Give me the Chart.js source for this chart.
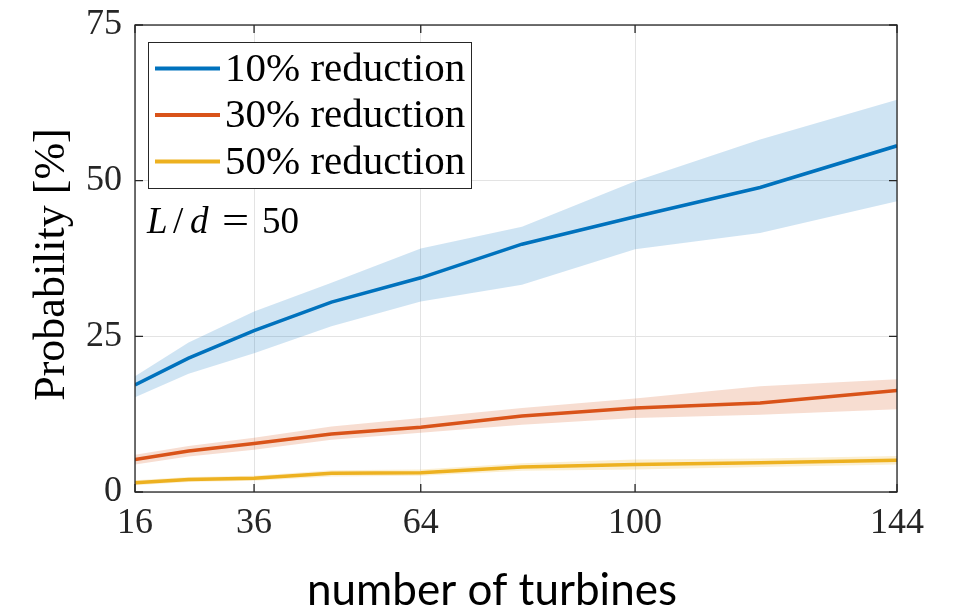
<!DOCTYPE html>
<html><head><meta charset="utf-8">
<script src="https://cdn.jsdelivr.net/npm/chart.js@4/dist/chart.umd.min.js"></script>
<style>html,body{margin:0;padding:0;background:#fff}#wrap{width:954px;height:614px}</style>
</head><body><div id="wrap"><canvas id="c" width="954" height="614"></canvas></div>
<script>
// ---- data ----
const turbines = [16, 25, 36, 49, 64, 81, 100, 121, 144];
const xTicks = [16, 36, 64, 100, 144];
const yTicks = [0, 25, 50, 75];
const seriesLabels = ['10% reduction', '30% reduction', '50% reduction'];

const mean10  = [17.2, 21.5, 25.9, 30.5, 34.4, 39.8, 44.2, 48.9, 55.6];
const upper10 = [18.6, 24.0, 29.0, 33.6, 39.1, 42.6, 49.9, 56.6, 63.0];
const lower10 = [15.2, 19.0, 22.3, 26.6, 30.6, 33.3, 39.0, 41.6, 46.7];

const mean30  = [5.2, 6.6, 7.8, 9.3, 10.4, 12.2, 13.5, 14.3, 16.3];
const upper30 = [6.0, 7.4, 8.7, 10.5, 11.9, 13.5, 15.0, 17.0, 18.1];
const lower30 = [4.4, 5.7, 6.8, 8.4, 9.5, 10.8, 11.9, 12.4, 13.3];

const mean50  = [1.5, 2.0, 2.2, 3.0, 3.1, 4.0, 4.4, 4.7, 5.1];
const upper50 = [1.9, 2.4, 2.6, 3.5, 3.6, 4.6, 5.2, 5.4, 5.8];
const lower50 = [1.1, 1.6, 1.8, 2.5, 2.6, 3.4, 3.6, 4.0, 4.4];

const xTitle = 'number of turbines';
const yTitle = 'Probability [%]';

// ---- styles ----
const lineColors = ['#0072BD', '#D95319', '#EDB120'];
const bandColors = ['rgba(0,114,189,0.19)', 'rgba(217,83,25,0.2)', 'rgba(237,177,32,0.2)'];
const SERIF = '"Liberation Serif", "Times New Roman", serif';

const pts = arr => arr.map((v, i) => ({x: turbines[i], y: v}));
const groups = [[mean10, upper10, lower10], [mean30, upper30, lower30], [mean50, upper50, lower50]];
const datasets = [];
groups.forEach((g, k) => {
  datasets.push({label: seriesLabels[k] + ' upper', data: pts(g[1]), fill: '+1', backgroundColor: bandColors[k],
    borderWidth: 0, pointRadius: 0, tension: 0, isBand: true});
  datasets.push({label: seriesLabels[k] + ' lower', data: pts(g[2]), fill: false, borderWidth: 0,
    pointRadius: 0, tension: 0, isBand: true});
});
groups.forEach((g, k) => {
  datasets.push({label: seriesLabels[k], data: pts(g[0]), fill: false, borderColor: lineColors[k],
    borderWidth: 3.5, pointRadius: 0, tension: 0});
});

const decor = {
  id: 'decor',
  afterDraw(chart) {
    const {ctx, chartArea: {left, right, top, bottom}, scales: {x, y}} = chart;
    ctx.save();
    // box and inward ticks
    ctx.strokeStyle = '#262626';
    ctx.lineWidth = 1.3;
    ctx.strokeRect(left, top, right - left, bottom - top);
    ctx.beginPath();
    xTicks.forEach(v => { const p = x.getPixelForValue(v);
      ctx.moveTo(p, bottom); ctx.lineTo(p, bottom - 8); ctx.moveTo(p, top); ctx.lineTo(p, top + 8); });
    yTicks.forEach(v => { const p = y.getPixelForValue(v);
      ctx.moveTo(left, p); ctx.lineTo(left + 8, p); ctx.moveTo(right, p); ctx.lineTo(right - 8, p); });
    ctx.stroke();

    // legend inside the axes
    const bx = left + 13, by = top + 17, bw = 323, bh = 146;
    ctx.fillStyle = '#fff';
    ctx.fillRect(bx, by, bw, bh);
    ctx.lineWidth = 1;
    ctx.strokeStyle = '#262626';
    ctx.strokeRect(bx + 0.5, by + 0.5, bw, bh);
    const lines = chart.data.datasets.filter(d => !d.isBand);
    ctx.font = '41px ' + SERIF;
    ctx.textAlign = 'left';
    ctx.textBaseline = 'alphabetic';
    lines.forEach((d, i) => {
      const ry = by + 26.5 + i * 46.5;
      ctx.strokeStyle = d.borderColor;
      ctx.lineWidth = 4;
      ctx.beginPath(); ctx.moveTo(bx + 7, ry); ctx.lineTo(bx + 72, ry); ctx.stroke();
      ctx.fillStyle = '#000';
      ctx.fillText(d.label, bx + 77, ry + 12);
    });

    // annotation L/d = 50
    const ty = top + 208;
    ctx.fillStyle = '#000';
    ctx.font = 'italic 37px ' + SERIF;
    ctx.fillText('L', left + 12, ty);
    ctx.font = '37px ' + SERIF;
    ctx.fillText('/', left + 38, ty);
    ctx.font = 'italic 37px ' + SERIF;
    ctx.fillText('d', left + 55, ty);
    ctx.font = '37px ' + SERIF;
    ctx.save();
    ctx.translate(left + 87, ty);
    ctx.scale(1.3, 1);
    ctx.fillText('=', 0, 0);
    ctx.restore();
    ctx.fillText('50', left + 127, ty);

    // axis titles
    ctx.font = '44px Lato, "Open Sans", sans-serif';
    ctx.textAlign = 'center';
    ctx.fillText(xTitle, (left + right) / 2 - 24, 605);
    ctx.save();
    ctx.translate(64, (top + bottom) / 2 + 6);
    ctx.rotate(-Math.PI / 2);
    ctx.font = '44px ' + SERIF;
    ctx.fillText(yTitle, 0, 0);
    ctx.restore();
    ctx.restore();
  }
};

new Chart(document.getElementById('c'), {
  type: 'line',
  data: {datasets},
  options: {
    responsive: false,
    animation: false,
    devicePixelRatio: 1,
    layout: {padding: {top: 25, right: 57, left: 0, bottom: 0}},
    plugins: {legend: {display: false}, tooltip: {enabled: false}, filler: {drawTime: 'beforeDatasetsDraw'}},
    scales: {
      x: {
        type: 'linear', min: 16, max: 144,
        afterBuildTicks: s => { s.ticks = xTicks.map(v => ({value: v})); },
        afterFit: s => { s.height = 122; s.paddingLeft = 0; s.paddingRight = 0; },
        grid: {color: '#e3e3e3', lineWidth: 1, drawTicks: false},
        border: {display: false},
        ticks: {padding: 10, color: '#262626', font: {family: SERIF, size: 36}, maxRotation: 0,
          callback: v => String(v)}
      },
      y: {
        type: 'linear', min: 0, max: 75,
        afterBuildTicks: s => { s.ticks = yTicks.map(v => ({value: v})); },
        afterFit: s => { s.width = 135; s.paddingTop = 0; s.paddingBottom = 0; },
        grid: {color: '#e3e3e3', lineWidth: 1, drawTicks: false},
        border: {display: false},
        ticks: {padding: 13, color: '#262626', font: {family: SERIF, size: 36}, callback: v => String(v)}
      }
    }
  },
  plugins: [decor]
});
</script>
</body></html>
